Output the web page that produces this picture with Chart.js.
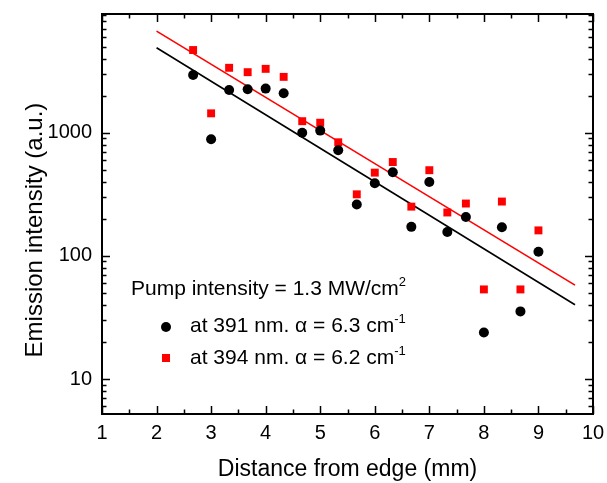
<!DOCTYPE html>
<html>
<head>
<meta charset="utf-8">
<script src="https://cdn.jsdelivr.net/npm/chart.js@4.4.1/dist/chart.umd.min.js"></script>
<style>
  html, body { margin: 0; padding: 0; background: #fff; }
  #wrap { position: relative; width: 607px; height: 483px; }
  #chart { position: absolute; left: 0; top: 0; }
  .lg { position: absolute; font-family: 'Liberation Sans', Arial, sans-serif; font-size: 21px; line-height: 21px; color: #000; white-space: nowrap; }
  .sup { position: relative; top: -9px; font-size: 13px; line-height: 0; }
  .mk { position: absolute; }
  #ytitle { position: absolute; left: -116px; top: 216px; width: 300px; height: 28px; line-height: 28px;
            text-align: center; font-family: 'Liberation Sans', Arial, sans-serif; font-size: 24px; color: #000;
            transform: rotate(-90deg); white-space: nowrap; }
</style>
</head>
<body>
<div id="wrap">
  <canvas id="chart" width="607" height="483"></canvas>
  <div id="ytitle">Emission intensity (a.u.)</div>
  <div class="lg" style="left:131px;top:277px">Pump intensity = 1.3 MW/cm<span class="sup">2</span></div>
  <div class="mk" style="left:161px;top:322px;width:10px;height:10px;border-radius:50%;background:#000"></div>
  <div class="lg" style="left:190px;top:314px">at 391 nm. α = 6.3 cm<span class="sup">-1</span></div>
  <div class="mk" style="left:162px;top:354px;width:8px;height:8px;background:#ff0000"></div>
  <div class="lg" style="left:190px;top:346px">at 394 nm. α = 6.2 cm<span class="sup">-1</span></div>
</div>
<script>
// distance from edge (mm)
const distances = [2.67, 3.0, 3.33, 3.67, 4.0, 4.33, 4.67, 5.0, 5.33, 5.67,
                   6.0, 6.33, 6.67, 7.0, 7.33, 7.67, 8.0, 8.33, 8.67, 9.0];
// emission at 391 nm (black circles)
const em391 = [2940, 884, 2220, 2250, 2280, 2090, 1000, 1040, 720, 261,
               389, 477, 172, 398, 156, 207, 23.9, 171, 35.4, 108];
// emission at 394 nm (red squares)
const em394 = [4690, 1436, 3365, 3100, 3300, 2840, 1240, 1205, 836, 316,
               474, 578, 251, 496, 225, 266, 53.4, 276, 53.4, 161];

// exponential fits (end points)
const fitX   = [2, 9.67];
const fit391 = [4890, 40.1];
const fit394 = [6680, 57.8];

const xTicks = [1, 2, 3, 4, 5, 6, 7, 8, 9, 10];
const yTicks = [10, 100, 1000];

const FONT = "'Liberation Sans', Arial, sans-serif";
Chart.defaults.font.family = FONT;
Chart.defaults.color = '#000';
Chart.defaults.animation = false;

const pts = (xs, ys) => xs.map((x, i) => ({ x, y: ys[i] }));

// frame + inward tick marks (Origin style)
const frameTicks = {
  id: 'frameTicks',
  afterDraw(chart) {
    const { ctx, chartArea: a, scales: { x, y } } = chart;
    ctx.save();
    ctx.strokeStyle = '#000';
    ctx.lineWidth = 1.5;
    ctx.beginPath();
    const xMaj = 8, xMin = 4.5, yMaj = 8, yMin = 4.5;
    for (let v = x.min; v <= x.max + 1e-9; v += 0.5) {
      const px = Math.round(x.getPixelForValue(v)) + 0.5;
      const len = Number.isInteger(v) ? xMaj : xMin;
      ctx.moveTo(px, a.bottom); ctx.lineTo(px, a.bottom - len);
      ctx.moveTo(px, a.top);    ctx.lineTo(px, a.top + len);
    }
    for (let d = 1; d <= 1000; d *= 10) {
      for (let m = 1; m <= 9; m++) {
        const v = d * m;
        if (v < y.min || v > y.max) continue;
        const py = Math.round(y.getPixelForValue(v)) + 0.5;
        const len = m === 1 ? yMaj : yMin;
        ctx.moveTo(a.left, py);  ctx.lineTo(a.left + len, py);
        ctx.moveTo(a.right, py); ctx.lineTo(a.right - len, py);
      }
    }
    ctx.stroke();
    ctx.lineWidth = 2;
    ctx.strokeRect(a.left, a.top, a.right - a.left, a.bottom - a.top);
    ctx.restore();
  }
};

new Chart(document.getElementById('chart').getContext('2d'), {
  type: 'scatter',
  data: {
    datasets: [
      {
        label: 'at 391 nm',
        data: pts(distances, em391),
        pointStyle: 'circle',
        pointRadius: 5,
        backgroundColor: '#000',
        borderWidth: 0,
      },
      {
        label: 'at 394 nm',
        data: pts(distances, em394),
        pointStyle: 'rect',
        pointRadius: 5.6,
        backgroundColor: '#ff0000',
        borderWidth: 0,
      },
      {
        type: 'line',
        label: 'fit 391',
        data: pts(fitX, fit391),
        borderColor: '#000',
        borderWidth: 1.6,
        pointRadius: 0,
        fill: false,
      },
      {
        type: 'line',
        label: 'fit 394',
        data: pts(fitX, fit394),
        borderColor: '#ff0000',
        borderWidth: 1.6,
        pointRadius: 0,
        fill: false,
      },
    ]
  },
  options: {
    responsive: false,
    layout: { padding: { left: 0, top: 14, right: 14, bottom: 0 } },
    plugins: { legend: { display: false }, tooltip: { enabled: false } },
    scales: {
      x: {
        type: 'linear', min: 1, max: 10,
        grid: { display: false, drawTicks: false },
        border: { display: false },
        afterBuildTicks: s => { s.ticks = xTicks.map(v => ({ value: v })); },
        afterFit: s => { s.height = 69; s.paddingLeft = 0; s.paddingRight = 0; },
        ticks: { font: { size: 20 }, color: '#000', padding: 7, maxRotation: 0, autoSkip: false },
        title: { display: true, text: 'Distance from edge (mm)', font: { size: 23 }, color: '#000', padding: { top: 0, bottom: 0 } }
      },
      y: {
        type: 'logarithmic', min: 5.2, max: 9200,
        grid: { display: false, drawTicks: false },
        border: { display: false },
        afterBuildTicks: s => { s.ticks = yTicks.map(v => ({ value: v })); },
        afterFit: s => { s.width = 102; s.paddingTop = 0; s.paddingBottom = 0; },
        ticks: { font: { size: 20 }, color: '#000', padding: 10, callback: v => String(v) },
        title: { display: false }
      }
    }
  },
  plugins: [frameTicks]
});
</script>
</body>
</html>
